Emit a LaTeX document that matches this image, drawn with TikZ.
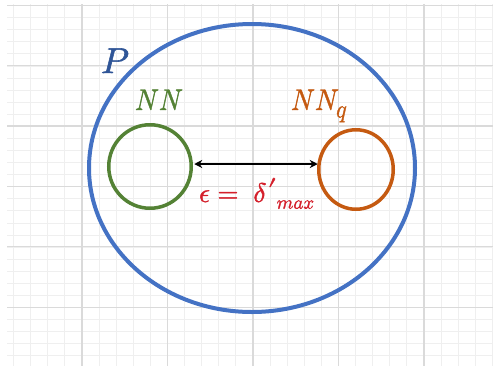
\documentclass[tikz,border=0pt]{standalone}
\usepackage{unicode-math}
\setmathfont{Latin Modern Math}[FakeBold=1.5]
\usetikzlibrary{arrows.meta,shapes.geometric}
\definecolor{pblue}{HTML}{4472C4}
\definecolor{pdblue}{HTML}{2F5597}
\definecolor{pgreen}{HTML}{548235}
\definecolor{porange}{HTML}{C55A11}
\definecolor{pred}{HTML}{D41F2B}
\definecolor{gminor}{HTML}{EFEFEF}
\definecolor{gmajor}{HTML}{DADADA}
\tikzset{
  ring/.style={draw, ellipse, inner sep=0pt, outer sep=0pt},
  lbl/.style={inner sep=0pt, outer sep=0pt},
}
\begin{document}
\begin{tikzpicture}[x=1pt,y=-1pt]
\useasboundingbox[fill=white] (0,0) rectangle (493,365);
\begin{scope}
\clip (7,4) rectangle (493,365);
\foreach \i in {0,...,28} \draw[gminor, line width=1pt] ({13.6+17.1*\i},0) -- ++(0,370);
\foreach \j in {0,...,30} \draw[gminor, line width=1pt] (0,{5.6+12.08*\j}) -- ++(500,0);
\foreach \i in {0,...,5} \draw[gmajor, line width=1.2pt] ({82+85.5*\i},0) -- ++(0,370);
\foreach \j in {0,...,6} \draw[gmajor, line width=1.2pt] (0,{5.1+60.4*\j}) -- ++(500,0);
\end{scope}
\node[ring, pblue, line width=4pt, minimum width=326pt, minimum height=288pt] (P) at (252,168) {};
\node[ring, pgreen, line width=3.5pt, minimum width=82.5pt, minimum height=83.5pt] (G) at (150,166.5) {};
\node[ring, porange, line width=3.5pt, minimum width=74.5pt, minimum height=79.5pt] (O) at (356,169.5) {};
\draw[line width=2.2pt, {Stealth[length=8pt,width=8pt]}-{Stealth[length=8pt,width=8pt]}] ([xshift=3pt]G.east|-0,164) -- ([xshift=-1pt]O.west|-0,164);
\node[lbl, text=pdblue, anchor=base west, font=\fontsize{36}{40}\selectfont] (Pl) at (101,73) {$P$};
\node[lbl, text=pgreen, anchor=base west, font=\fontsize{30}{32}\selectfont] (Gl) at (135,110) {\scalebox{0.88}[1]{$NN$}};
\node[lbl, text=porange, anchor=base west, font=\fontsize{30}{32}\selectfont] (Ol) at (291,110) {\scalebox{0.88}[1]{$NN_{\mbox{\fontsize{25}{25}\selectfont$q$}}$}};
\node[lbl, text=pred, anchor=base west, font=\fontsize{27}{32}\selectfont] (E) at (199,202) {$\epsilon = \;{\delta\mkern1mu\raisebox{3pt}{\scalebox{1.5}{$\scriptstyle\prime$}}}_{max}$};
\end{tikzpicture}
\end{document}
